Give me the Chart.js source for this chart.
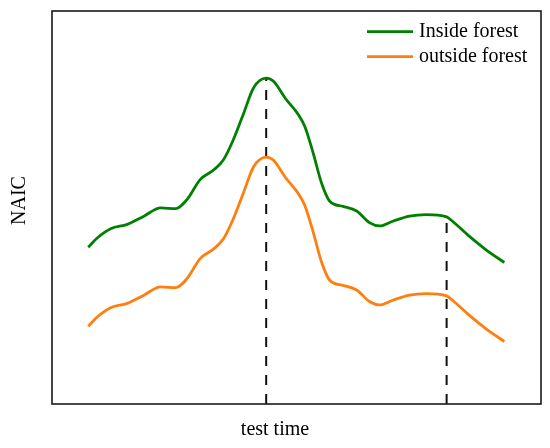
<!DOCTYPE html>
<html>
<head>
<meta charset="utf-8">
<script src="https://cdn.jsdelivr.net/npm/chart.js@4/dist/chart.umd.min.js"></script>
<style>
html,body{margin:0;padding:0;background:#fff;}
#wrap{width:550px;height:448px;}
</style>
</head>
<body>
<div id="wrap"><canvas id="c"></canvas></div>
<script>
// test time (arbitrary units, 0-100 across the frame)
const testTime = [7.4, 9.3, 12.0, 15.4, 18.8, 22.2, 25.3, 27.6, 30.3, 33.1, 35.1, 37.1, 39.2, 41.2, 43.8, 45.3, 47.7, 50.4, 51.7, 53.4, 55.1, 56.8, 59.5, 62.3, 65.0, 67.0, 69.7, 73.1, 76.5, 80.7, 81.9, 85.3, 88.7, 92.5];
// NAIC, inside forest
const insideForest = [39.9, 42.3, 44.6, 45.7, 47.8, 49.9, 49.7, 52.0, 57.1, 59.6, 62.2, 67.3, 74.0, 80.4, 82.9, 82.1, 77.8, 73.6, 70.6, 63.9, 56.3, 51.6, 50.3, 49.1, 46.1, 45.3, 46.5, 47.8, 48.2, 47.6, 46.5, 42.7, 39.3, 36.0];
// NAIC, outside forest
const outsideForest = [19.8, 22.2, 24.5, 25.6, 27.7, 29.8, 29.6, 31.9, 37.0, 39.5, 42.1, 47.2, 53.9, 60.3, 62.8, 62.0, 57.7, 53.5, 50.5, 43.8, 36.2, 31.5, 30.2, 29.0, 26.0, 25.2, 26.4, 27.7, 28.1, 27.5, 26.4, 22.6, 19.2, 15.9];
const seriesLabels = ['Inside forest', 'outside forest'];
const markerIdx = [14, 29]; // indexes of the dashed guide lines
const xTitle = 'test time';
const yTitle = 'NAIC';

const GREEN = '#008000', ORANGE = '#ff7f0e';
const toPts = (ys) => ys.map((y, i) => ({x: testTime[i], y}));

const datasets = [
  {label: seriesLabels[0], data: toPts(insideForest), borderColor: GREEN, borderWidth: 2.8, cubicInterpolationMode: 'monotone', pointRadius: 0, fill: false, order: 1},
  {label: seriesLabels[1], data: toPts(outsideForest), borderColor: ORANGE, borderWidth: 2.8, cubicInterpolationMode: 'monotone', pointRadius: 0, fill: false, order: 1}
];
markerIdx.forEach(i => {
  datasets.push({label: '_guide', data: [{x: testTime[i], y: 0}, {x: testTime[i], y: insideForest[i]}],
    borderColor: '#111', borderWidth: 2, borderDash: [10, 9], pointRadius: 0, fill: false, order: 2});
});

const framePlugin = {
  id: 'framePlugin',
  afterDraw(chart) {
    const {ctx, chartArea: a} = chart;
    ctx.save();
    ctx.strokeStyle = '#1a1a1a';
    ctx.lineWidth = 1.6;
    ctx.strokeRect(a.left, a.top, a.right - a.left, a.bottom - a.top);
    ctx.fillStyle = '#000';
    ctx.font = '20px "Liberation Serif", "Times New Roman", serif';
    // axis titles
    ctx.textAlign = 'center';
    ctx.textBaseline = 'middle';
    ctx.fillText(xTitle, chart.width / 2, 430);
    ctx.save();
    ctx.translate(20, 200.5);
    ctx.rotate(-Math.PI / 2);
    ctx.fillText(yTitle, 0, 0);
    ctx.restore();
    // legend
    ctx.textAlign = 'left';
    chart.data.datasets.slice(0, 2).forEach((ds, k) => {
      const y = a.top + 20.7 + k * 25;
      ctx.strokeStyle = ds.borderColor;
      ctx.lineWidth = 2.8;
      ctx.beginPath();
      ctx.moveTo(a.right - 174, y);
      ctx.lineTo(a.right - 128, y);
      ctx.stroke();
      ctx.fillText(ds.label, a.right - 122, y);
    });
    ctx.restore();
  }
};

new Chart(document.getElementById('c'), {
  type: 'line',
  data: {datasets},
  options: {
    responsive: true,
    maintainAspectRatio: false,
    animation: false,
    layout: {padding: {left: 52, top: 11, right: 9, bottom: 44}},
    plugins: {legend: {display: false}, tooltip: {enabled: false}},
    scales: {
      x: {type: 'linear', min: 0, max: 100, display: false},
      y: {type: 'linear', min: 0, max: 100, display: false}
    }
  },
  plugins: [framePlugin]
});
</script>
</body>
</html>
